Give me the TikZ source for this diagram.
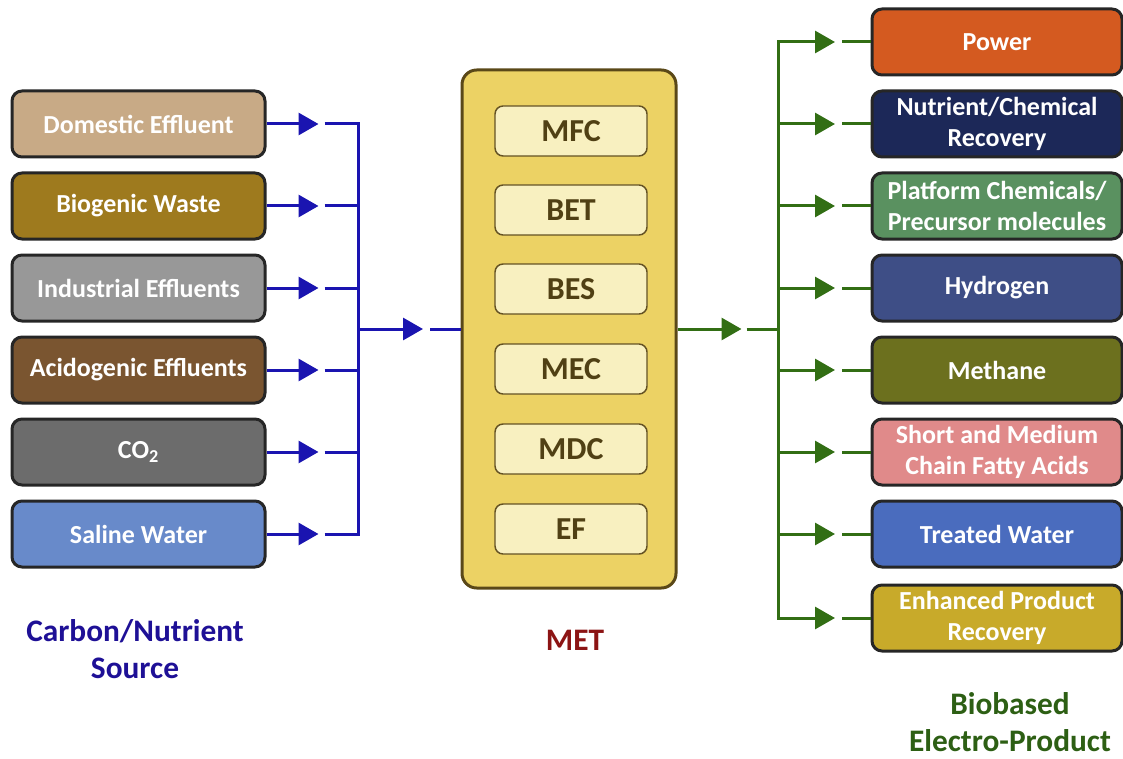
\documentclass[tikz,border=0pt]{standalone}
\usepackage{fontspec}
\setmainfont{Carlito}
\usetikzlibrary{arrows.meta, calc}

\definecolor{domtan}{RGB}{200,170,134}
\definecolor{biobrown}{RGB}{158,122,30}
\definecolor{indgray}{RGB}{152,152,152}
\definecolor{acibrown}{RGB}{122,85,48}
\definecolor{cogray}{RGB}{108,108,108}
\definecolor{salblue}{RGB}{104,138,202}
\definecolor{metyellow}{RGB}{236,210,100}
\definecolor{metborder}{RGB}{90,72,24}
\definecolor{unitfill}{RGB}{248,240,192}
\definecolor{unitborder}{RGB}{100,82,36}
\definecolor{unittext}{RGB}{80,64,20}
\definecolor{srcblue}{RGB}{26,20,176}
\definecolor{srclabel}{RGB}{30,16,150}
\definecolor{prodgreen}{RGB}{50,110,20}
\definecolor{prodlabel}{RGB}{45,95,20}
\definecolor{metred}{RGB}{140,20,20}
\definecolor{poworange}{RGB}{212,90,32}
\definecolor{nutnavy}{RGB}{28,40,88}
\definecolor{platgreen}{RGB}{90,145,96}
\definecolor{hydblue}{RGB}{62,78,134}
\definecolor{metholive}{RGB}{108,112,30}
\definecolor{fattypink}{RGB}{224,138,138}
\definecolor{watblue}{RGB}{74,108,190}
\definecolor{eprgold}{RGB}{200,170,42}

\begin{document}
\begin{tikzpicture}[x=0.75pt, y=-0.75pt,
	srcbox/.style = {draw = black!85, line width = 2.25pt, rounded corners = 7.5pt, minimum width = 189.75pt, minimum height = 49.5pt, inner sep = 0pt, text = white, align = center, font = \fontsize{19.5}{23}\selectfont\bfseries},
	prodbox/.style = {srcbox, minimum width = 187.5pt},
	metbox/.style = {fill = metyellow, draw = metborder, line width = 2.25pt, rounded corners = 11pt, minimum width = 160.5pt, minimum height = 388.5pt},
	unitbox/.style = {fill = unitfill, draw = unitborder, line width = 1.1pt, rounded corners = 6pt, minimum width = 114pt, minimum height = 37.5pt, text = unittext, font = \fontsize{24}{28}\selectfont\bfseries},
	blueline/.style = {draw = srcblue, line width = 2.25pt},
	greenline/.style = {draw = prodgreen, line width = 2.25pt},
	flowtip/.style = {-{Triangle[length = 15pt, width = 16.5pt]}},
	caption/.style = {align = center, font = \fontsize{23.5}{27.5}\selectfont\bfseries}]
	\useasboundingbox (0, 0) rectangle (1123, 759);

	% sources
	\node[srcbox, fill = domtan] (dom) at (138.5, 124) {Domestic Effluent};
	\node[srcbox, fill = biobrown] (bio) at (138.5, 206) {Biogenic Waste};
	\node[srcbox, fill = indgray] (ind) at (138.5, 288) {Industrial Effluents};
	\node[srcbox, fill = acibrown] (aci) at (138.5, 370) {Acidogenic Effluents};
	\node[srcbox, fill = cogray] (co) at (138.5, 452) {CO\textsubscript{2}};
	\node[srcbox, fill = salblue] (sal) at (138.5, 534) {Saline Water};

	% MET
	\node[metbox] (met) at (569, 329) {};
	\node[unitbox] (mfc) at (571, 131) {MFC};
	\node[unitbox] (bet) at (571, 210) {BET};
	\node[unitbox] (bes) at (571, 289) {BES};
	\node[unitbox] (mec) at (571, 369) {MEC};
	\node[unitbox] (mdc) at (571, 449) {MDC};
	\node[unitbox] (ef) at (571, 529) {EF};

	% products
	\node[prodbox, fill = poworange] (pow) at (997, 42) {Power};
	\node[prodbox, fill = nutnavy] (nut) at (997, 124) {Nutrient/Chemical\\Recovery};
	\node[prodbox, fill = platgreen] (plat) at (997, 206) {Platform Chemicals/\\Precursor molecules};
	\node[prodbox, fill = hydblue] (hyd) at (997, 288) {Hydrogen};
	\node[prodbox, fill = metholive] (meth) at (997, 370) {Methane};
	\node[prodbox, fill = fattypink] (fatty) at (997, 452) {Short and Medium\\Chain Fatty Acids};
	\node[prodbox, fill = watblue] (wat) at (997, 534) {Treated Water};
	\node[prodbox, fill = eprgold] (epr) at (997, 618) {Enhanced Product\\Recovery};

	% captions
	\node[caption, text = srclabel] (srccap) at (135, 649) {Carbon/Nutrient\\Source};
	\node[caption, text = metred] (metcap) at (575, 640) {MET};
	\node[caption, text = prodlabel] (prodcap) at (1010, 722) {Biobased\\Electro-Product};

	% inflow
	\coordinate (busL) at (358, 0);
	\foreach \src in {dom, bio, ind, aci, co, sal} {
		\draw[blueline, flowtip] (\src.east) -- ++(52, 0) coordinate (tip);
		\draw[blueline] ($(tip) + (6, 0)$) -- (\src.east -| busL);
	}
	\draw[blueline, line cap = rect] (dom.east -| busL) -- (sal.east -| busL);
	\draw[blueline, flowtip] (met.west -| busL) -- ++(65, 0) coordinate (tip);
	\draw[blueline] ($(tip) + (7, 0)$) -- (met.west);

	% outflow
	\coordinate (busR) at (778, 0);
	\draw[greenline, flowtip] (met.east) -- ++(64, 0) coordinate (tip);
	\draw[greenline] ($(tip) + (5, 0)$) -- (met.east -| busR);
	\draw[greenline, line cap = rect] (pow.west -| busR) -- (epr.west -| busR);
	\foreach \prod in {pow, nut, plat, hyd, meth, fatty, wat, epr} {
		\draw[greenline, flowtip] (\prod.west -| busR) -- ++(57, 0) coordinate (tip);
		\draw[greenline] ($(tip) + (7, 0)$) -- (\prod.west);
	}
\end{tikzpicture}
\end{document}
